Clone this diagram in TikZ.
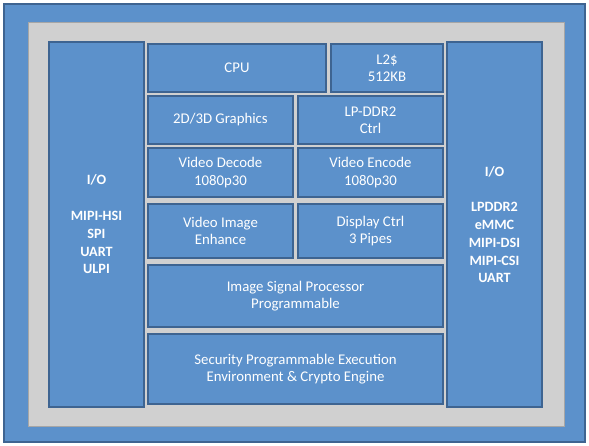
\documentclass[tikz,border=0pt]{standalone}
\usepackage{fontspec}
\setmainfont{Carlito}
\definecolor{blkfill}{RGB}{92,145,203}
\definecolor{blkline}{RGB}{62,100,145}
\definecolor{chipgray}{RGB}{208,208,208}
\begin{document}
\begin{tikzpicture}[x=1pt,y=-1pt,
  blk/.style={draw=blkline, line width=1.2pt, fill=blkfill, text=white, inner sep=0pt, align=center,
    font=\fontsize{14.8}{17.4}\selectfont},
  iobox/.style={blk, font=\fontsize{14.2}{17.8}\selectfont\bfseries}]
\useasboundingbox (0,0) rectangle (589,446);
\node[draw=blkline, line width=1.5pt, fill=blkfill, minimum width=581pt, minimum height=438pt, inner sep=0pt] (outer) at (294.5,223) {};
\node[draw=gray!70, line width=0.8pt, fill=chipgray, minimum width=536pt, minimum height=404pt, inner sep=0pt] (chip) at (296,224) {};
\node[iobox, minimum width=95pt, minimum height=365pt] (iol) at (96.5,224.5) {I/O\\[17.8pt]MIPI-HSI\\SPI\\UART\\ULPI};
\node[iobox, minimum width=95pt, minimum height=365pt] (ior) at (494.5,224.5) {I/O\\[17.8pt]LPDDR2\\eMMC\\MIPI-DSI\\MIPI-CSI\\UART};
\node[blk, minimum width=178pt, minimum height=48pt] (cpu) at (237,68) {CPU};
\node[blk, minimum width=112pt, minimum height=48pt] (l2) at (387,68) {L2\$\\512KB};
\node[blk, minimum width=145pt, minimum height=48pt] (gfx) at (220.5,120) {2D/3D Graphics};
\node[blk, minimum width=145pt, minimum height=48pt] (ddr) at (370.5,120) {LP-DDR2\\Ctrl};
\node[blk, minimum width=145pt, minimum height=49pt] (vdec) at (220.5,172.5) {Video Decode\\1080p30};
\node[blk, minimum width=145pt, minimum height=49pt] (venc) at (370.5,172.5) {Video Encode\\1080p30};
\node[blk, minimum width=145pt, minimum height=54pt] (vie) at (220.5,231) {Video Image\\Enhance};
\node[blk, minimum width=145pt, minimum height=54pt] (disp) at (370.5,231) {Display Ctrl\\3 Pipes};
\node[blk, minimum width=295pt, minimum height=62pt] (isp) at (295.5,296) {Image Signal Processor\\Programmable};
\node[blk, minimum width=295pt, minimum height=70pt] (sec) at (295.5,369) {Security Programmable Execution\\Environment \& Crypto Engine};
\end{tikzpicture}
\end{document}
